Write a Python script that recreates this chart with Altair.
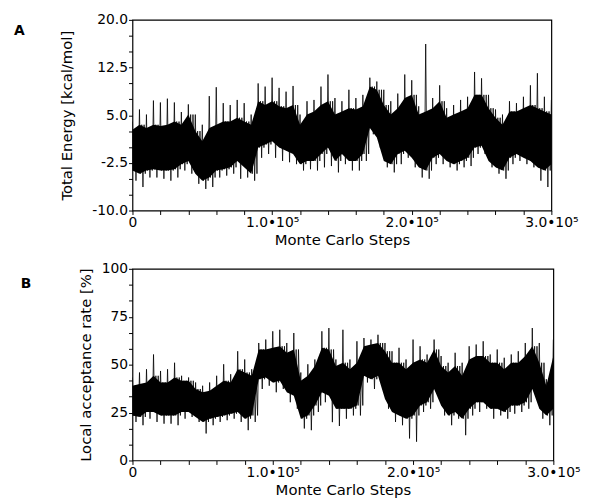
import altair as alt
import pandas as pd

# ---------------- data (every 5000 MC steps) ----------------
steps = list(range(0, 300001, 5000))

# Panel A: Total energy [kcal/mol]
a_hi = [4.0, 5.9, 5.1, 7.3, 7.0, 7.6, 7.0, 5.5, 6.7, 5.1, 3.5, 8.0, 9.4, 6.9, 6.6,
        7.4, 6.9, 5.1, 10.0, 9.5, 10.9, 9.3, 8.7, 9.6, 5.1, 7.2, 7.4, 9.5, 11.4, 7.7,
        7.2, 9.0, 7.7, 8.2, 10.9, 10.3, 9.0, 7.2, 8.4, 11.4, 10.5, 6.4, 16.2, 7.7, 9.7,
        6.1, 6.6, 7.4, 7.9, 11.8, 10.8, 8.2, 5.9, 5.1, 7.2, 6.9, 7.9, 9.7, 11.6, 7.9, 7.4]
a_lo = [-5.3, -6.3, -4.8, -4.8, -5.0, -5.3, -4.8, -3.7, -4.2, -5.8, -6.6, -6.3, -4.8, -4.5, -4.2,
        -5.0, -4.8, -5.3, -1.7, -1.1, -1.7, -2.2, -2.4, -2.7, -3.7, -3.5, -3.7, -3.2, -3.0, -4.0,
        -2.7, -3.7, -3.7, -2.2, 2.0, -0.1, -3.2, -4.0, -2.7, -1.7, -3.2, -4.8, -5.0, -2.7, -2.7,
        -3.2, -3.7, -3.2, -3.0, -1.1, -1.1, -3.2, -4.2, -5.0, -2.7, -2.2, -2.7, -3.2, -5.3, -6.3, -4.2]
a_core_hi = [2.7, 3.5, 3.0, 3.5, 3.3, 3.5, 4.0, 3.5, 5.1, 2.5, 0.9, 3.0, 3.5, 4.0, 4.0,
             4.6, 4.0, 3.5, 7.2, 6.6, 7.2, 6.4, 6.1, 6.6, 3.5, 5.1, 5.6, 6.6, 7.2, 5.1,
             5.6, 6.1, 5.9, 6.4, 9.5, 9.0, 6.6, 5.1, 6.1, 7.7, 8.2, 5.1, 5.6, 6.1, 7.2,
             4.6, 5.1, 5.6, 6.1, 8.2, 8.2, 6.1, 4.6, 3.5, 5.6, 5.6, 6.1, 6.6, 6.1, 5.6, 5.1]
a_core_lo = [-3.7, -4.2, -3.7, -3.5, -3.7, -3.7, -3.5, -2.7, -2.2, -4.2, -5.3, -4.8, -3.7, -3.5, -3.2,
             -2.2, -3.2, -4.2, -0.1, 0.4, 0.9, -0.1, -0.6, -1.1, -2.7, -2.2, -2.2, -1.1, -0.1, -2.2,
             -1.1, -2.2, -2.2, -1.1, 3.0, 1.5, -2.2, -2.7, -1.1, -0.6, -1.7, -3.2, -3.7, -1.7, -1.1,
             -2.2, -2.7, -2.2, -1.7, -0.1, 0.2, -2.2, -3.2, -3.7, -1.7, -1.1, -1.7, -2.2, -3.2, -3.7, -2.7]

# Panel B: Local acceptance rate [%]
b_hi = [43.3, 45.9, 47.6, 55.3, 46.7, 47.6, 51.0, 44.2, 43.3, 40.7, 39.0, 40.7, 44.2, 50.2, 45.0,
        57.0, 52.7, 47.6, 61.3, 63.1, 67.4, 68.2, 61.3, 66.5, 45.9, 50.2, 52.7, 67.4, 69.1, 52.7,
        68.2, 52.7, 62.2, 63.9, 63.1, 65.6, 61.3, 57.0, 58.8, 52.7, 63.1, 59.6, 55.3, 63.1, 54.5,
        51.0, 56.2, 51.0, 59.6, 60.5, 62.2, 55.3, 57.9, 53.6, 55.3, 57.0, 61.3, 69.1, 61.3, 42.4, 63.1]
b_lo = [20.1, 18.4, 21.8, 20.1, 19.2, 19.2, 18.4, 21.8, 22.7, 20.1, 14.1, 18.4, 20.1, 21.0, 21.8,
        20.1, 15.8, 20.1, 37.3, 39.0, 35.6, 37.3, 30.4, 27.0, 16.7, 15.8, 25.3, 30.4, 20.0, 18.0,
        21.8, 23.5, 23.5, 40.7, 37.3, 40.7, 27.0, 20.1, 18.4, 11.5, 9.8, 25.3, 27.0, 33.8, 23.5,
        18.4, 21.8, 13.2, 23.5, 25.3, 27.0, 21.8, 23.5, 21.8, 24.4, 25.3, 27.0, 33.8, 21.8, 18.4, 23.5]
b_core_hi = [39.0, 39.9, 40.7, 44.2, 40.7, 40.7, 43.3, 41.6, 41.6, 37.3, 35.6, 36.4, 39.0, 41.6, 40.7,
             47.6, 45.9, 44.2, 57.9, 57.9, 58.8, 59.6, 56.2, 57.9, 41.6, 44.2, 49.3, 58.8, 57.9, 49.3,
             51.0, 47.6, 51.0, 59.6, 60.5, 61.3, 57.0, 51.0, 51.0, 47.6, 51.0, 52.7, 51.0, 57.9, 49.3,
             45.9, 49.3, 44.2, 52.7, 54.5, 54.5, 51.0, 51.0, 47.6, 51.0, 51.0, 54.5, 59.6, 51.0, 39.0, 54.5]
b_core_lo = [23.5, 22.7, 25.3, 25.3, 23.5, 23.5, 23.5, 25.3, 25.3, 22.7, 20.1, 21.8, 22.7, 23.5, 24.4,
             25.3, 21.8, 23.5, 42.4, 43.3, 40.7, 41.6, 35.6, 33.8, 21.8, 23.5, 28.7, 35.6, 33.8, 27.0,
             27.0, 27.0, 28.7, 44.2, 42.4, 44.2, 32.1, 25.3, 23.5, 21.8, 23.5, 28.7, 30.4, 37.3, 28.7,
             23.5, 25.3, 21.8, 27.0, 30.4, 30.4, 27.0, 27.0, 25.3, 28.7, 28.7, 30.4, 37.3, 27.0, 23.5, 27.0]

# order in which the read levels are visited inside one 5000-step bin, and their offsets
trace_offsets = [0, 833, 1667, 2500, 3333, 4167]
trace_levels = ["hi", "clo", "chi", "lo", "chi", "clo"]

x_minor = list(range(0, 300001, 20000))
a_minor = [-10, -7.5, -5, -2.5, 0, 2.5, 5, 7.5, 10, 12.5, 15, 17.5, 20]
b_minor = [0, 8.333, 16.667, 25, 33.333, 41.667, 50, 58.333, 66.667, 75, 83.333, 91.667, 100]

FONT = "DejaVu Sans"
XMAX = 300000
X_LABEL = ("datum.value % 100000 != 0 ? '' : (datum.value == 0 ? '0' : "
           "format(datum.value / 100000, '.1f') + '\u202210\u2075')")
A_LABEL = "(datum.value + 10) % 7.5 != 0 ? '' : replace(format(datum.value, '.1f'), '\u2212', '-')"
B_LABEL = "datum.value % 25 != 0 ? '' : format(datum.value, 'd')"


def panel(label, hi, lo, chi, clo, ydom, yticks, ytitle, ylabel_expr, width, height,
          ytitle_pad, label_dx, label_dy):
    levels = {"hi": hi, "lo": lo, "chi": chi, "clo": clo}
    rows = []
    k = 0
    for i, s in enumerate(steps):
        for off, lev in zip(trace_offsets, trace_levels):
            if s + off <= XMAX:
                rows.append({"step": s + off, "value": levels[lev][i], "order": k})
                k += 1
    trace = pd.DataFrame(rows)
    band = pd.DataFrame({"step": steps, "value": clo, "value2": chi})

    xs = alt.Scale(domain=[0, XMAX], nice=False, zero=False)
    ys = alt.Scale(domain=ydom, nice=False, zero=False)

    x_main = alt.Axis(orient="bottom", values=x_minor, labelExpr=X_LABEL, ticks=True,
                      tickSize=4, tickColor="black", tickWidth=1,
                      domain=False, grid=False, title="Monte Carlo Steps", labelPadding=1,
                      titlePadding=3, labelFont=FONT, titleFont=FONT, labelFontSize=14,
                      titleFontSize=15, titleFontWeight="normal", labelColor="black",
                      titleColor="black", labelFlush=False)
    y_main = alt.Axis(orient="left", values=yticks, labelExpr=ylabel_expr, ticks=True,
                      tickSize=4, tickColor="black", tickWidth=1,
                      domain=False, grid=False, title=ytitle, labelPadding=1,
                      titlePadding=ytitle_pad, labelFont=FONT, titleFont=FONT,
                      labelFontSize=14, titleFontSize=15, titleFontWeight="normal",
                      labelColor="black", titleColor="black", labelFlush=False)

    X = alt.X("step:Q", scale=xs, axis=x_main, title="Monte Carlo Steps")
    Y = alt.Y("value:Q", scale=ys, axis=y_main, title=ytitle)

    area = alt.Chart(band).mark_area(color="black", opacity=1).encode(
        x=X, y=Y, y2="value2:Q")
    line = alt.Chart(trace).mark_line(color="black", strokeWidth=0.8, clip=True).encode(
        x=X, y=Y, order="order:Q")
    tag = alt.Chart(pd.DataFrame({"t": [label]})).mark_text(
        font=FONT, fontSize=14, fontWeight="bold", color="black", align="left",
        baseline="top").encode(text="t:N", x=alt.value(label_dx), y=alt.value(label_dy))

    return alt.layer(area, line, tag).properties(width=width, height=height)


pa = panel("A", a_hi, a_lo, a_core_hi, a_core_lo, [-10, 20], a_minor,
           "Total Energy [kcal/mol]", A_LABEL, 424, 193, 17, -120, 4)
pb = panel("B", b_hi, b_lo, b_core_hi, b_core_lo, [0, 100], b_minor,
           "Local acceptance rate [%]", B_LABEL, 426, 194, 8, -113, 8)

chart = alt.vconcat(pa, pb, spacing=59, bounds="flush").configure(
    padding={"left": 5, "top": 1, "right": 0, "bottom": 0},
    background="white",
).configure_view(stroke="black", strokeWidth=1.2)

chart.save("out.html", embed_options={"renderer": "svg", "actions": False})
